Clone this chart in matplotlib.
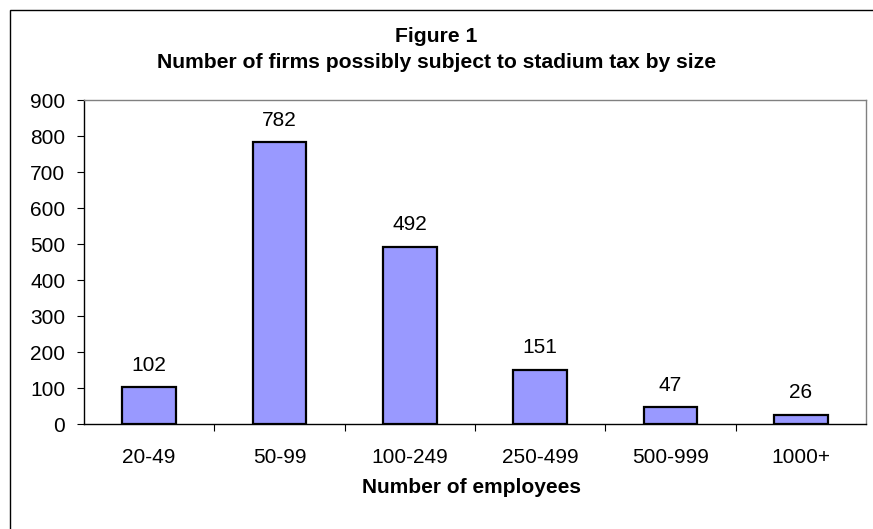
import matplotlib
matplotlib.use("Agg")
import matplotlib.pyplot as plt
from matplotlib.patches import Rectangle
import numpy as np

categories = ["20-49", "50-99", "100-249", "250-499", "500-999", "1000+"]
values = [102, 782, 492, 151, 47, 26]
yticks = [0, 100, 200, 300, 400, 500, 600, 700, 800, 900]
title_line1 = "Figure 1"
title_line2 = "Number of firms possibly subject to stadium tax by size"
xlabel = "Number of employees"

plt.rcParams['font.family'] = ['Liberation Sans', 'DejaVu Sans']
FS = 15

W, H = 873, 529
fig = plt.figure(figsize=(W / 100, H / 100), dpi=100)
ax = fig.add_axes([84 / W, 1 - 424 / H, (866 - 84) / W, (424 - 100) / H])

x = np.arange(len(categories))
ax.bar(x, values, width=0.41, color="#9999FF", edgecolor="black", linewidth=1.6, zorder=3)
for xi, v in zip(x, values):
    ax.annotate(str(v), (xi, v), xytext=(0, 9), textcoords="offset points",
                ha="center", va="bottom", fontsize=FS)

ax.set_xlim(-0.5, len(categories) - 0.5)
ax.set_ylim(0, 900)
ax.set_yticks(yticks)
ax.set_yticklabels([str(t) for t in yticks], fontsize=FS)
ax.tick_params(axis="y", direction="out", length=5, width=0.8, pad=8.5, color="black")

ax.set_xticks(x)
ax.set_xticklabels(categories, fontsize=FS)
ax.tick_params(axis="x", which="major", length=0, pad=17)
ax.set_xticks(np.arange(0.5, len(categories) - 0.5, 1), minor=True)
ax.tick_params(axis="x", which="minor", direction="out", length=5, width=0.8, color="black")

for s in ["left", "bottom"]:
    ax.spines[s].set_color("black")
    ax.spines[s].set_linewidth(1.0)
for s in ["top", "right"]:
    ax.spines[s].set_color("#808080")
    ax.spines[s].set_linewidth(1.0)

ax.set_xlabel(xlabel, fontsize=FS, fontweight="bold", labelpad=8)
ax.xaxis.label.set_x(0.495)
fig.text(0.5, 1 - 37 / H, title_line1, ha="center", va="center", fontsize=15.2, fontweight="bold")
fig.text(0.5, 1 - 63 / H, title_line2, ha="center", va="center", fontsize=15.2, fontweight="bold")

border = Rectangle((10 / W, -0.1), 1.2, 1 - 10 / H + 0.1, transform=fig.transFigure,
                   fill=False, edgecolor="black", linewidth=1.0)
fig.patches.append(border)

fig.savefig("out.png", dpi=100)
